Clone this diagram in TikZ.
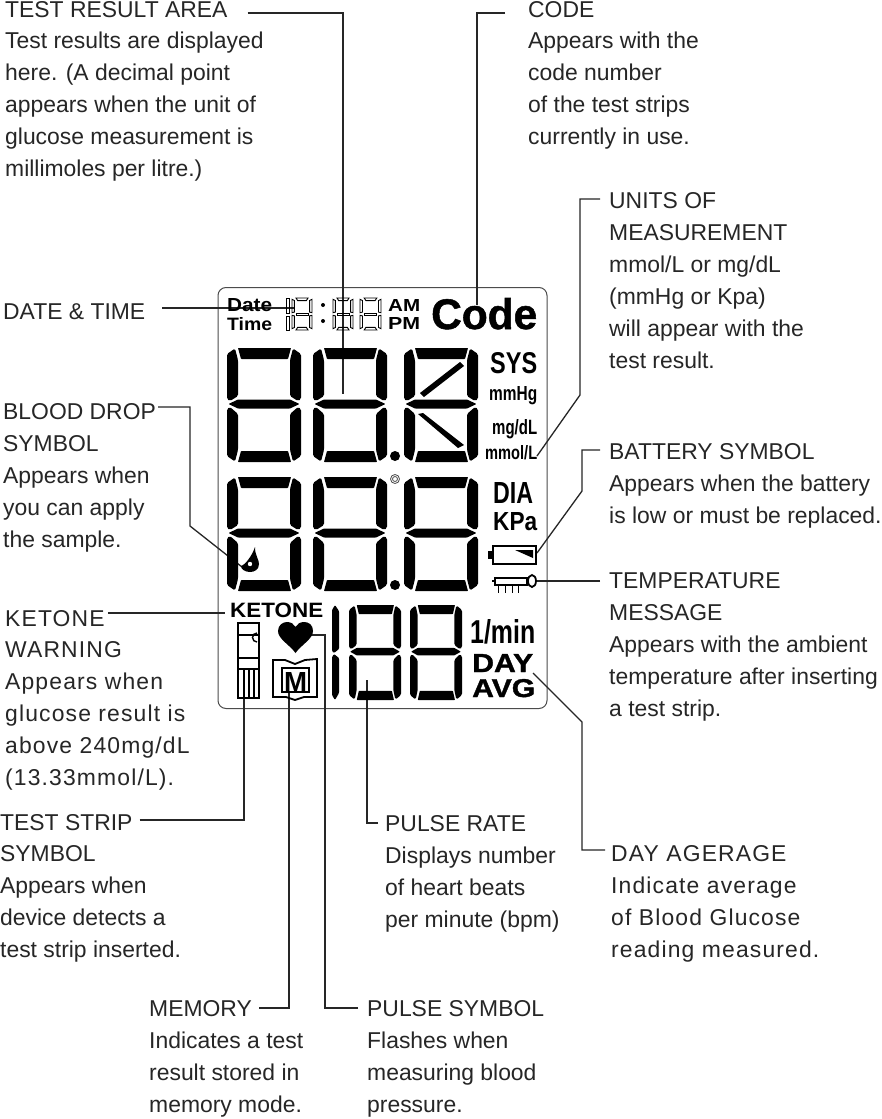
\documentclass[tikz,border=0pt]{standalone}
\usepackage{fontspec}
\usepackage{graphicx}
\setmainfont{Liberation Sans}
\tikzset{x=1pt,y=-1pt,
  lbl/.style={anchor=base west,inner sep=0pt,font=\fontsize{22.9}{32}\selectfont,text=black!85,align=left},
  body/.style={lbl,anchor=north west},
  wide/.style={font=\fontsize{22.9}{32}\selectfont\addfontfeature{LetterSpace=5}},
  conn/.style={draw=black!85,line width=1.3pt},
  seg/.style={fill=black},
  frame/.style={draw=black!70,line width=1pt,rounded corners=8pt}}
\newcommand\fl{\rule{0pt}{18pt}}
\newcommand\heavy{\bfseries\addfontfeature{FakeBold=1.2}}
% digit: #1 x, #2 y, #3 w, #4 h, #5 style
\newcommand\lcddigit[5]{%
\begin{scope}[shift={(#1,#2)},xscale=#3/74,yscale=#4/114]
\path[#5,rounded corners=0.6pt] (11,0)--(64,0)--(61,11)--(14,11)--cycle;
\path[#5,rounded corners=0.6pt] (14,103)--(61,103)--(64,114)--(11,114)--cycle;
\path[#5,rounded corners=0.6pt] (1.5,56)--(11,51.5)--(63,51.5)--(72.5,56)--(63,60.5)--(11,60.5)--cycle;
\path[#5,rounded corners=1.5pt] (8,0.5)--(11,12)--(11,48)--(3,53)--(0,51)--(0,6)--cycle;
\path[#5,rounded corners=1.5pt] (66,0.5)--(63,12)--(63,48)--(71,53)--(74,51)--(74,6)--cycle;
\path[#5,rounded corners=1.5pt] (8,113.5)--(11,102)--(11,66)--(3,59)--(0,61)--(0,108)--cycle;
\path[#5,rounded corners=1.5pt] (66,113.5)--(63,102)--(63,66)--(71,59)--(74,61)--(74,108)--cycle;
\end{scope}}
% small hollow digit: x, y, w, h
\newcommand\timedigit[4]{%
\begin{scope}[shift={(#1,#2)},xscale=#3,yscale=#4]
\draw[black,line width=0.9pt] (0.2,0)--(0.8,0)--(0.72,0.08)--(0.28,0.08)--cycle;
\draw[black,line width=0.9pt] (0.2,1)--(0.8,1)--(0.72,0.92)--(0.28,0.92)--cycle;
\draw[black,line width=0.9pt] (0.2,0.47)--(0.8,0.47)--(0.8,0.53)--(0.2,0.53)--cycle;
\draw[black,line width=0.9pt] (0,0.04)--(0.12,0.08)--(0.12,0.44)--(0,0.46)--cycle;
\draw[black,line width=0.9pt] (1,0.04)--(0.88,0.08)--(0.88,0.44)--(1,0.46)--cycle;
\draw[black,line width=0.9pt] (0,0.54)--(0.12,0.56)--(0.12,0.92)--(0,0.96)--cycle;
\draw[black,line width=0.9pt] (1,0.54)--(0.88,0.56)--(0.88,0.92)--(1,0.96)--cycle;
\end{scope}}
% fixed-size LCD text: name, x, baseline y, width, cap height, text
\newcommand\lcdtext[6]{\node[inner sep=0pt,anchor=base west] (#1) at (#2,#3) {\resizebox{#4pt}{#5pt}{#6}};}
\begin{document}
\begin{tikzpicture}
\useasboundingbox (0,0) rectangle (882,1119);
\fill[white] (0,0) rectangle (882,1119);
% frame
\node[frame,minimum width=329pt,minimum height=421pt,inner sep=0pt,anchor=north west] (lcd) at (217.5,287) {};
% end points of connectors
\coordinate (eTest) at (343,394);
\coordinate (eCode) at (477,305);
\coordinate (eUnits) at (537,456);
\coordinate (kUnits) at (580,395);
\coordinate (eDate) at (295,308);
\coordinate (eDrop) at (242,567);
\coordinate (kDrop) at (190,526);
\coordinate (eBat) at (537,553);
\coordinate (kBat) at (582,491);
\coordinate (eTemp) at (537,581);
\coordinate (eKet) at (225,613);
\coordinate (eStrip) at (244,687);
\coordinate (eMem) at (289,692);
\coordinate (ePulse) at (310,635);
\coordinate (kPulse) at (325,635);
\coordinate (eRate) at (367,680);
\coordinate (eDay) at (533,673);
\coordinate (kDay) at (582,722);
% labels
\node[lbl] (tTest) at (5,17) {TEST RESULT AREA};
\node[body] (bTest) at (5,30) {\fl Test results are displayed\\here. (A decimal point\\appears when the unit of\\glucose measurement is\\millimoles per litre.)};
\node[lbl] (tCode) at (528,17) {CODE};
\node[body] (bCode) at (528,30) {\fl Appears with the\\code number\\of the test strips\\currently in use.};
\node[lbl] (tUnits) at (609,208) {UNITS OF};
\node[body] (bUnits) at (609,222) {\fl MEASUREMENT\\mmol/L or mg/dL\\(mmHg or Kpa)\\will appear with the\\test result.};
\node[lbl] (tDate) at (3,319) {DATE \& TIME};
\node[lbl] (tDrop) at (3,419) {BLOOD DROP};
\node[body] (bDrop) at (3,433) {\fl SYMBOL\\Appears when\\you can apply\\the sample.};
\node[lbl] (tBat) at (609,459) {BATTERY SYMBOL};
\node[body] (bBat) at (609,473) {\fl Appears when the battery\\is low or must be replaced.};
\node[lbl] (tTemp) at (609,588) {TEMPERATURE};
\node[body] (bTemp) at (609,602) {\fl MESSAGE\\Appears with the ambient\\temperature after inserting\\a test strip.};
\node[lbl,wide] (tKet) at (5,626) {KETONE};
\node[body,wide] (bKet) at (5,639) {\fl WARNING\\Appears when\\glucose result is\\above 240mg/dL\\(13.33mmol/L).};
\node[lbl] (tStrip) at (0,830) {TEST STRIP};
\node[body] (bStrip) at (0,843) {\fl SYMBOL\\Appears when\\device detects a\\test strip inserted.};
\node[lbl] (tRate) at (385,831) {PULSE RATE};
\node[body] (bRate) at (385,845) {\fl Displays number\\of heart beats\\per minute (bpm)};
\node[lbl,wide] (tDay) at (611,861) {DAY AGERAGE};
\node[body,wide] (bDay) at (611,875) {\fl Indicate average\\of Blood Glucose\\reading measured.};
\node[lbl] (tMem) at (149,1016) {MEMORY};
\node[body] (bMem) at (149,1030) {\fl Indicates a test\\result stored in\\memory mode.};
\node[lbl] (tPulse) at (367,1016) {PULSE SYMBOL};
\node[body] (bPulse) at (367,1030) {\fl Flashes when\\measuring blood\\pressure.};
% connectors
\draw[conn] ([xshift=20pt,yshift=4pt]tTest.base east) -| (eTest);
\draw[conn] ([xshift=-23pt,yshift=4pt]tCode.base west) -| (eCode);
\draw[conn] ([xshift=-9pt,yshift=9pt]tUnits.base west) -| (kUnits) -- (eUnits);
\draw[conn] ([xshift=17pt,yshift=11pt]tDate.base east) -- (eDate);
\draw[conn] ([xshift=2pt,yshift=12pt]tDrop.base east) -| (kDrop) -- (eDrop);
\draw[conn] ([xshift=-9pt,yshift=9pt]tBat.base west) -| (kBat) -- (eBat);
\draw[conn] ([xshift=-9pt,yshift=7pt]tTemp.base west) -- (eTemp);
\draw[conn] ([xshift=3pt,yshift=13pt]tKet.base east) -- (eKet);
\draw[conn] ([xshift=7pt,yshift=10pt]tStrip.base east) -| (eStrip);
\draw[conn] ([xshift=7pt,yshift=8pt]tMem.base east) -| (eMem);
\draw[conn] ([xshift=-9pt,yshift=8pt]tPulse.base west) -| (kPulse) -- (ePulse);
\draw[conn] ([xshift=-7pt,yshift=8pt]tRate.base west) -| (eRate);
\draw[conn] ([xshift=-6pt,yshift=11pt]tDay.base west) -| (kDay) -- (eDay);
% big digits
\lcddigit{227}{348}{74}{114}{seg}
\lcddigit{313}{348}{74}{114}{seg}
\lcddigit{404}{348}{74}{114}{seg}
\lcddigit{227}{477}{74}{114}{seg}
\lcddigit{313}{477}{74}{114}{seg}
\lcddigit{404}{477}{74}{114}{seg}
\fill (420,393)--(460,362)--(464,366)--(424,397)--cycle;
\fill (418,414)--(423,413)--(464,445)--(458,448)--cycle;
\fill (395,456) circle (5);
\fill (395,585) circle (5);
\draw[black!70,line width=0.8pt] (395,479) circle (4.5);
\draw[black!70,line width=0.8pt] (395,479) circle (2.5);
% pulse digits
\begin{scope}[shift={(332,605)}]
\path[seg,rounded corners=1pt] (3,0)--(7,6)--(7,44)--(2,48)--(0,46)--(0,5)--cycle;
\path[seg,rounded corners=1pt] (2,49)--(7,53)--(7,88)--(3,95)--(0,90)--(0,52)--cycle;
\end{scope}
\lcddigit{349}{605}{52}{95}{seg}
\lcddigit{410}{605}{52}{95}{seg}
% time digits
\draw[black,line width=0.9pt] (286,298) rectangle (289,313);
\draw[black,line width=0.9pt] (286,316) rectangle (289,330);
\timedigit{292}{298}{20}{32}
\timedigit{333}{298}{20}{32}
\timedigit{360}{298}{21}{32}
\fill (323,305) circle (2);
\fill (323,321) circle (2);
% LCD texts
\lcdtext{nDate}{227}{311}{45}{13}{\bfseries Date}
\lcdtext{nTime}{227}{330}{45}{13}{\bfseries Time}
\lcdtext{nAM}{388}{311}{32}{12}{\bfseries AM}
\lcdtext{nPM}{388}{329}{32}{12}{\bfseries PM}
\lcdtext{nCode}{431}{329}{106}{31}{\heavy Code}
\lcdtext{nSYS}{490}{373}{47}{21}{\bfseries SYS}
\lcdtext{nHg}{489}{400}{48}{14}{\bfseries mmHg}
\lcdtext{nMg}{492}{434}{45}{15}{\bfseries mg/dL}
\lcdtext{nMmol}{485}{459}{52}{14}{\bfseries mmol/L}
\lcdtext{nDIA}{493}{503}{40}{21}{\bfseries DIA}
\lcdtext{nKPa}{493}{530}{44}{18}{\bfseries KPa}
\lcdtext{nMin}{470}{643}{65}{24}{\bfseries 1/min}
\lcdtext{nDay}{472}{672}{61}{18}{\heavy DAY}
\lcdtext{nAvg}{472}{697}{63}{18}{\heavy AVG}
\lcdtext{nKet}{230}{617}{93}{14.5}{\bfseries KETONE}
\lcdtext{nM}{284}{691}{23}{19}{\bfseries M}
% drop
\fill (255,547) .. controls (255,556) and (259,559) .. (259,564) .. controls (259,570) and (254,572) .. (250,572) .. controls (245,572) and (241,569) .. (241,566) .. controls (245,565) and (252,556) .. (255,547) -- cycle;
\fill[white] (250,564) circle (2.2);
% battery
\draw[black,line width=1.6pt] (493,546) rectangle (536,564);
\fill (488,551) rectangle (493,559);
\fill (515,550)--(533,550)--(533,558)--cycle;
% thermometer
\draw[black,line width=1.1pt] (495,578) rectangle (527,585);
\draw[black,line width=1.1pt] (492,581)--(495,581);
\draw[black,line width=1.8pt,fill=white] (532,581) ellipse (4 and 6);
\foreach \tx in {498,505,512,518}{\draw[black,line width=1pt] (\tx,585)--(\tx,593);}
% test strip
\draw[black,line width=1.6pt] (238,623) rectangle (259,698);
\draw[black,line width=1.6pt] (238,635)--(259,635);
\draw[black,line width=1.6pt] (238,658)--(259,658);
\draw[black,line width=1.6pt] (238,669)--(259,669);
\draw[black,line width=1.4pt] (257,642) arc (90:270:4.5);
\foreach \tx in {244,249,254}{\draw[black,line width=1.2pt] (\tx,669)--(\tx,698);}
% heart
\fill (295.5,653) .. controls (290,645) and (278,639) .. (278,631) .. controls (278,625) and (283,622) .. (287,622) .. controls (291,622) and (294,624) .. (295.5,627) .. controls (297,624) and (300,622) .. (304,622) .. controls (309,622) and (313,625) .. (313,631) .. controls (313,639) and (301,645) .. (295.5,653) -- cycle;
% memory book
\draw[black,line width=1.8pt] (273,660) -- (285,660) -- (295,664) -- (305,660) -- (317,659) -- (317,697) -- (304,697) -- (295,700) -- (286,697) -- (273,697) -- cycle;
\draw[black,line width=1.2pt] (282,668) -- (282,692) -- (309,692) -- (309,668) -- cycle;
\end{tikzpicture}
\end{document}
